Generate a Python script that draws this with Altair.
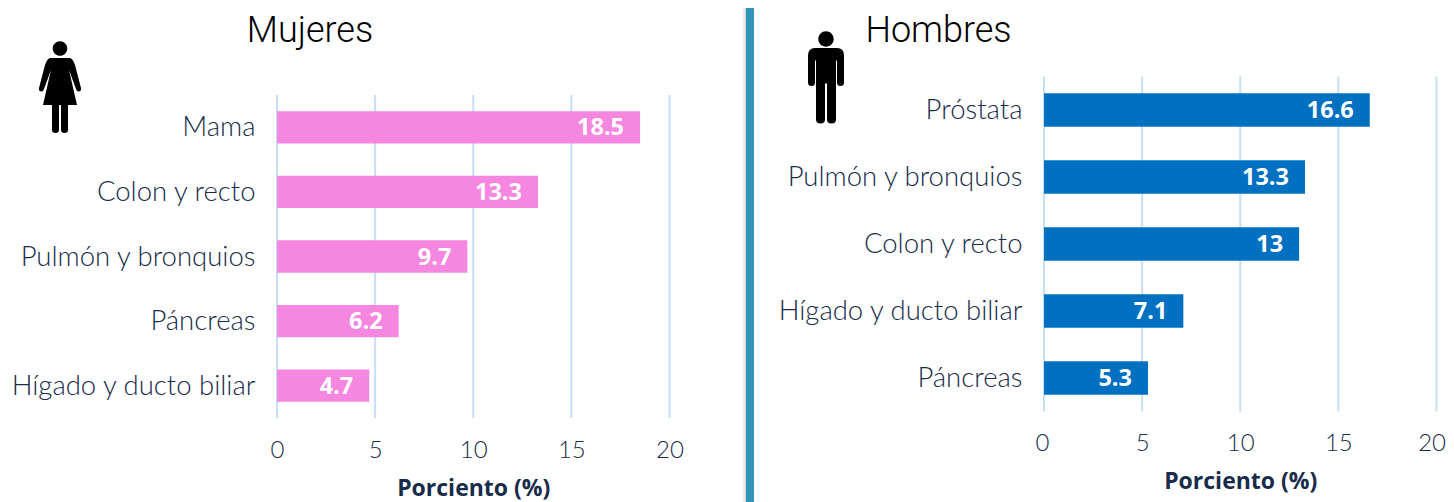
import re
import altair as alt
import pandas as pd

women_sites = ["Mama", "Colon y recto", "Pulmón y bronquios", "Páncreas", "Hígado y ducto biliar"]
women_values = [18.5, 13.3, 9.7, 6.2, 4.7]
men_sites = ["Próstata", "Pulmón y bronquios", "Colon y recto", "Hígado y ducto biliar", "Páncreas"]
men_values = [16.6, 13.3, 13, 7.1, 5.3]
ticks = [0, 5, 10, 15, 20]

LABEL_FONT = "Lato"
TITLE_FONT = "Roboto"
BOLD_FONT = "Open Sans"
TEXT = "#172c4a"
GRID = "#c6def6"

WOMAN = ("M-7.3 -38.5A7.3 7.3 0 1 1 7.3 -38.5A7.3 7.3 0 1 1 -7.3 -38.5Z"
         "M-10 -29L10 -29Q13 -28 15 -22L21 1Q21.5 4 19 4.5Q17 5 16 2L9 -17L17 18L8 18L8 43Q8 46 4.5 46Q1 46 1 43"
         "L1 18L-1 18L-1 43Q-1 46 -4.5 46Q-8 46 -8 43L-8 18L-17 18L-9 -17L-16 2Q-17 5 -19 4.5Q-21.5 4 -21 1"
         "L-15 -22Q-13 -28 -10 -29Z")
MAN = ("M-7.7 -38.5A7.7 7.7 0 1 1 7.7 -38.5A7.7 7.7 0 1 1 -7.7 -38.5Z"
       "M-11 -29.5L11 -29.5Q18 -29.5 18 -22L18 5Q18 8.5 14.5 8.5Q11 8.5 11 5L11 -17L10 -17L10 42Q10 46 5.5 46"
       "Q1 46 1 42L1 6L-1 6L-1 42Q-1 46 -5.5 46Q-10 46 -10 42L-10 -17L-11 -17L-11 5Q-11 8.5 -14.5 8.5"
       "Q-18 8.5 -18 5L-18 -22Q-18 -29.5 -11 -29.5Z")


def _scale(path, k):
    out = []
    for seg in re.findall(r"[MLQAZ][^MLQAZ]*", path):
        cmd, nums = seg[0], [float(n) for n in seg[1:].split()]
        if cmd == "A":
            nums = [nums[0] / k, nums[1] / k, nums[2], nums[3], nums[4], nums[5] / k, nums[6] / k]
        else:
            nums = [n / k for n in nums]
        out.append(cmd + " ".join(f"{n:g}" for n in nums))
    return "".join(out)


def panel(sites, values, color, title, title_xy, title_size, icon, icon_xy, top, bottom, flush, extras=()):
    df = pd.DataFrame({"site": sites, "value": values})
    x_scale = alt.Scale(domain=[0, 20], nice=False, range=[0, 392.5])
    y_scale = alt.Scale(domain=sites, range=[top, bottom], paddingInner=0.5, paddingOuter=0.25)
    x_axis = alt.Axis(values=ticks, grid=False, domain=False, ticks=False,
                      labelFlush=flush > 0, labelFlushOffset=flush,
                      labelFont=LABEL_FONT, labelFontSize=24, labelFontWeight=300, labelColor=TEXT,
                      labelPadding=20,
                      titleFont=BOLD_FONT, titleFontSize=23, titleFontWeight="bold",
                      titleColor=TEXT, titlePadding=15, format="d")
    y_axis = alt.Axis(domain=False, ticks=False, labelFont=LABEL_FONT, labelFontSize=27.5,
                      labelFontWeight=300, labelColor=TEXT, labelPadding=22, labelLimit=300,
                      labelOffset=1, minExtent=269, maxExtent=269)
    x = alt.X("value:Q", title="Porciento (%)", scale=x_scale, axis=x_axis)
    y = alt.Y("site:N", sort=sites, title=None, scale=y_scale, axis=y_axis)
    grid = alt.Chart(pd.DataFrame({"tick": ticks})).mark_rule(color=GRID, strokeWidth=2).encode(
        x=alt.X("tick:Q", title="Porciento (%)", scale=x_scale, axis=x_axis),
        y=alt.value(top), y2=alt.value(bottom))
    bars = alt.Chart(df).mark_bar(color=color).encode(x=x, y=y)
    labels = alt.Chart(df).mark_text(color="white", font=BOLD_FONT, fontWeight="bold", fontSize=23.5,
                                     align="right", baseline="middle", dx=-16, dy=1).encode(
        x=x, y=y, text="value:Q")
    head = alt.Chart(pd.DataFrame({"t": [title]})).mark_text(
        font=TITLE_FONT, fontWeight=300, fontSize=title_size, color="black", align="center",
        baseline="alphabetic").encode(
        x=alt.value(title_xy[0]), y=alt.value(title_xy[1]), text="t:N")
    figure = alt.Chart(pd.DataFrame({"i": [0]})).mark_point(
        shape=_scale(icon, 46.0), filled=True, color="black", opacity=1, size=46 * 46 * 4).encode(
        x=alt.value(icon_xy[0]), y=alt.value(icon_xy[1]))
    return alt.layer(*extras, grid, bars, labels, head, figure)


def sep(x0, x1, color):
    return alt.Chart(pd.DataFrame({"i": [0]})).mark_rect(color=color).encode(
        x=alt.value(x0), x2=alt.value(x1), y=alt.value(0), y2=alt.value(494))


left = panel(women_sites, women_values, "#f587e0", "Mujeres", (33, 33.5), 36, WOMAN, (-217, 79), 87, 410, 0,
             extras=(sep(466, 468, "#ececec"), sep(468, 469, "#d4d4d4"), sep(469, 477, "#2f95b8"))
             ).properties(width=392, height=410)
right = panel(men_sites, men_values, "#0070c0", "Hombres", (-105.5, 33.5), 36, MAN, (-218, 69.5), 68.5, 403.5, 9
              ).properties(width=392, height=403.5)

chart = alt.hconcat(left, right, spacing=375, bounds="flush").properties(
    padding=0, background="white"
).configure_view(stroke=None).resolve_scale(x="independent", y="independent")

chart.save("out.html", embed_options={"renderer": "svg", "actions": False})
